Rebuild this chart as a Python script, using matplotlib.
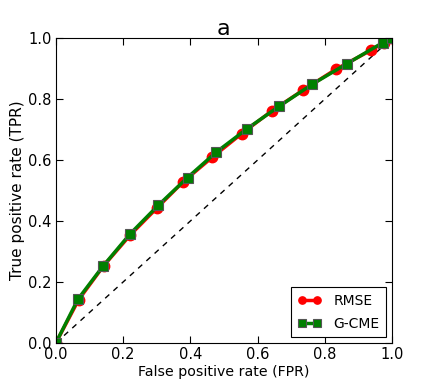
import matplotlib
matplotlib.use("Agg")
import matplotlib.pyplot as plt

rmse_fpr = [0.0, 0.068, 0.142, 0.222, 0.300, 0.379, 0.465, 0.553, 0.642, 0.736, 0.833, 0.937, 0.975, 1.0]
rmse_tpr = [0.0, 0.142, 0.253, 0.355, 0.442, 0.529, 0.609, 0.687, 0.761, 0.830, 0.898, 0.960, 0.985, 1.0]
gcme_fpr = [0.0, 0.066, 0.141, 0.221, 0.305, 0.392, 0.477, 0.569, 0.665, 0.763, 0.867, 0.972, 1.0]
gcme_tpr = [0.0, 0.144, 0.253, 0.358, 0.452, 0.543, 0.626, 0.703, 0.777, 0.849, 0.917, 0.985, 1.0]
ticks = [0.0, 0.2, 0.4, 0.6, 0.8, 1.0]

fig = plt.figure(figsize=(4.36, 3.82), dpi=100)
ax = fig.add_axes([0.128, 0.102, 0.771, 0.798])
ax.plot([0, 1], [0, 1], 'k--', lw=1, dashes=(4, 4))
ax.plot(rmse_fpr, rmse_tpr, color='red', lw=2.5, marker='o', ms=7.5,
        markeredgecolor='red', label='RMSE')
ax.plot(gcme_fpr, gcme_tpr, color='green', lw=2.5, marker='s', ms=7.5,
        markeredgecolor='#555555', markeredgewidth=0.8, label='G-CME')
ax.set_xlim(0, 1)
ax.set_ylim(0, 1)
ax.set_xticks(ticks)
ax.set_yticks(ticks)
ax.set_xticklabels([f"{t:.1f}" for t in ticks])
ax.set_yticklabels([f"{t:.1f}" for t in ticks])
ax.tick_params(direction='in', top=True, right=True, labelsize=10.5, length=5, pad=3)
ax.set_xlabel('False positive rate (FPR)', fontsize=10.2)
ax.set_ylabel('True positive rate (TPR)', fontsize=11)
ax.xaxis.set_label_coords(0.5, -0.072)
ax.yaxis.set_label_coords(-0.092, 0.5)
ax.set_title('a', fontsize=16, pad=2)
leg = ax.legend(loc='lower right', numpoints=2, fontsize=10, fancybox=False,
                edgecolor='black', framealpha=1, borderaxespad=0.4,
                handlelength=1.7, handletextpad=0.85, borderpad=0.5,
                labelspacing=0.65, markerscale=0.7)
leg.get_frame().set_linewidth(0.8)
fig.savefig('out.png', dpi=100, facecolor='white')
